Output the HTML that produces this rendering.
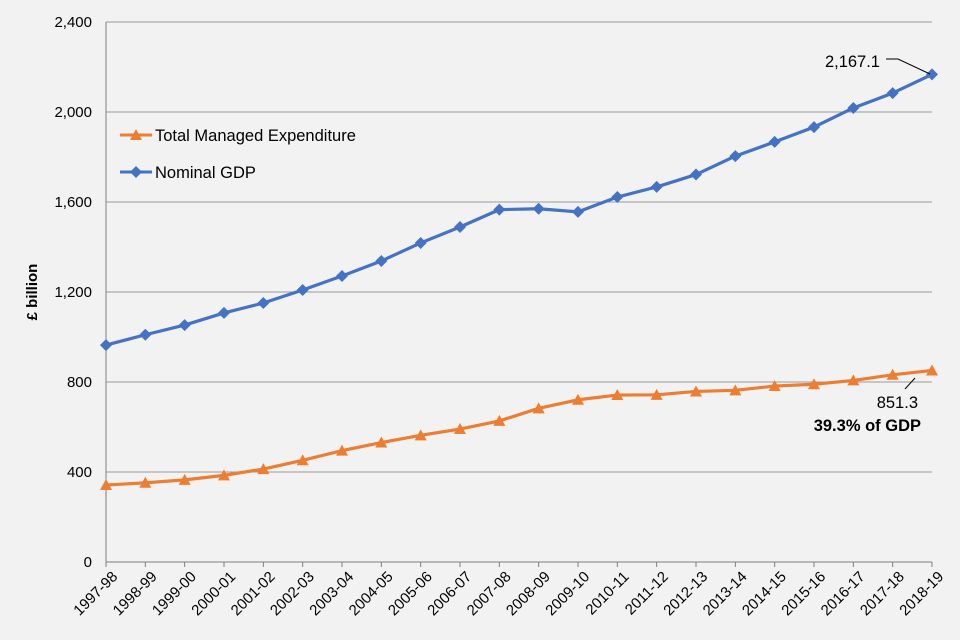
<!DOCTYPE html>
<html><head><meta charset="utf-8"><style>
body{margin:0;background:#f2f2f2;}
svg{display:block;font-family:"Liberation Sans",Arial,sans-serif;}
</style></head><body>
<svg id="chart" width="960" height="640">
<rect width="960" height="640" fill="#f2f2f2"/>
<g id="grid"></g><g id="axes"></g><g id="series"></g>
<text x="37" y="292" transform="rotate(-90 37 292)" text-anchor="middle" font-size="15" font-weight="bold" fill="#000">£ billion</text>
<g>
<g>
<line x1="120" y1="135" x2="152" y2="135" stroke="#ed7d31" stroke-width="3"/>
<polygon points="136,129 142,140 130,140" fill="#ed7d31"/>
<text x="155" y="141" font-size="16.5" fill="#000">Total Managed Expenditure</text></g>
<g>
<line x1="120" y1="172" x2="152" y2="172" stroke="#4472c4" stroke-width="3"/>
<polygon points="136,166 142,172 136,178 130,172" fill="#4472c4"/>
<text x="155" y="178" font-size="16.5" fill="#000">Nominal GDP</text></g>
</g>
<g>
<text x="880" y="67" text-anchor="end" font-size="16.5" fill="#000">2,167.1</text>
<polyline points="886,59 898,59 930,74" fill="none" stroke="#000" stroke-width="1"/>
</g>
<g>
<line x1="915" y1="378" x2="905" y2="389" stroke="#000" stroke-width="1"/>
<text x="918" y="408" text-anchor="end" font-size="16.5" fill="#000">851.3</text>
<text x="921" y="431" text-anchor="end" font-size="16.5" font-weight="bold" fill="#000">39.3% of GDP</text>
</g>
</svg>
<script>
const categories=["1997-98","1998-99","1999-00","2000-01","2001-02","2002-03","2003-04","2004-05","2005-06","2006-07","2007-08","2008-09","2009-10","2010-11","2011-12","2012-13","2013-14","2014-15","2015-16","2016-17","2017-18","2018-19"];
const gdpValues=[964,1010,1053,1107,1151,1209,1271,1338,1418,1489,1566,1570,1556,1622,1667,1722,1804,1867,1933,2018,2084,2167.1];
const tmeValues=[342,352,365,385,413,452,495,531,563,591,627,683,721,742,743,758,763,782,790,807,832,851.3];
const yTicks=[0,400,800,1200,1600,2000,2400];
const yTickLabels=["0","400","800","1,200","1,600","2,000","2,400"];
const NS="http://www.w3.org/2000/svg";
const x0=106,x1=932,yTop=22,yBot=562,yMax=2400;
function xs(i){return x0+i*(x1-x0)/(categories.length-1);}
function ys(v){return yBot-v/yMax*(yBot-yTop);}
function mk(tag,attrs,parent){const e=document.createElementNS(NS,tag);for(const k in attrs)e.setAttribute(k,attrs[k]);document.getElementById(parent).appendChild(e);return e;}
yTicks.forEach((t,i)=>{
 const g=mk("line",{x1:x0,x2:x1,y1:ys(t),y2:ys(t),stroke:i==0?"#7f7f7f":"#999","stroke-width":1},"grid");
 
 
 const l=mk("text",{x:92,y:ys(t)+5,"text-anchor":"end","font-size":15,fill:"#000"},"axes");
 l.textContent=yTickLabels[i];
 
 
});
const ya=mk("line",{x1:x0,x2:x0,y1:yTop,y2:yBot,stroke:"#7f7f7f"},"axes");


categories.forEach((c,i)=>{
 const tk=mk("line",{x1:xs(i),x2:xs(i),y1:yBot,y2:yBot+5,stroke:"#7f7f7f"},"axes");
 
 
 const x=xs(i)+5,y=yBot+8;
 const t=mk("text",{x:x,y:y,"text-anchor":"end","font-size":15,fill:"#000",transform:`rotate(-45 ${x} ${y})`,dy:"0.7em"},"axes");
 t.textContent=c;
 
 
});
function series(vals,color,name,marker){
 const p=mk("polyline",{points:vals.map((v,i)=>xs(i)+","+ys(v)).join(" "),fill:"none",stroke:color,"stroke-width":3.2,"stroke-linejoin":"round"},"series");
 
 
 vals.forEach((v,i)=>{
  const x=xs(i),y=ys(v);
  const pts=marker=="tri"?`${x},${y-6} ${x+6},${y+5} ${x-6},${y+5}`:`${x},${y-6} ${x+6},${y} ${x},${y+6} ${x-6},${y}`;
  const m=mk("polygon",{points:pts,fill:color},"series");
  
  
 });
}
series(tmeValues,"#ed7d31","tme","tri");
series(gdpValues,"#4472c4","gdp","dia");
</script>
</body></html>
